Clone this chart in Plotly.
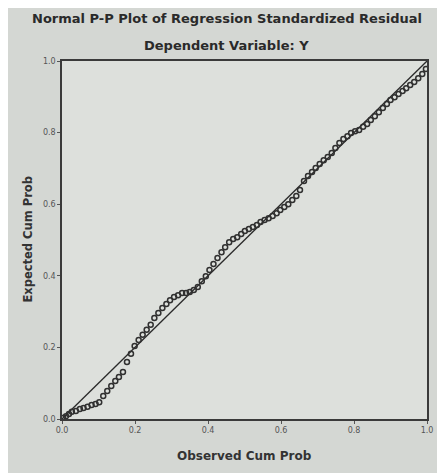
import plotly.graph_objects as go

observed = [0.003, 0.011, 0.019, 0.027, 0.038, 0.049, 0.059, 0.070, 0.081, 0.092,
            0.102, 0.113, 0.124, 0.135, 0.146, 0.156, 0.167, 0.178, 0.189, 0.199,
            0.210, 0.221, 0.232, 0.243, 0.253, 0.264, 0.275, 0.286, 0.296, 0.307,
            0.318, 0.329, 0.340, 0.350, 0.361, 0.372, 0.383, 0.394, 0.404, 0.415,
            0.426, 0.437, 0.447, 0.458, 0.469, 0.480, 0.491, 0.501, 0.512, 0.523,
            0.534, 0.544, 0.555, 0.566, 0.577, 0.588, 0.598, 0.609, 0.620, 0.631,
            0.642, 0.652, 0.663, 0.674, 0.685, 0.695, 0.706, 0.717, 0.728, 0.739,
            0.749, 0.760, 0.771, 0.782, 0.792, 0.803, 0.814, 0.825, 0.836, 0.846,
            0.857, 0.868, 0.879, 0.890, 0.900, 0.911, 0.922, 0.933, 0.943, 0.954,
            0.965, 0.976, 0.987, 0.997]
expected = [0.003, 0.008, 0.014, 0.020, 0.022, 0.028, 0.031, 0.034, 0.039, 0.042,
            0.047, 0.064, 0.078, 0.092, 0.106, 0.117, 0.131, 0.159, 0.182, 0.204,
            0.221, 0.235, 0.249, 0.263, 0.282, 0.296, 0.310, 0.321, 0.332, 0.341,
            0.346, 0.352, 0.352, 0.355, 0.360, 0.369, 0.385, 0.399, 0.416, 0.433,
            0.450, 0.466, 0.480, 0.494, 0.503, 0.508, 0.517, 0.525, 0.531, 0.536,
            0.542, 0.550, 0.556, 0.561, 0.567, 0.575, 0.584, 0.592, 0.600, 0.612,
            0.623, 0.640, 0.665, 0.679, 0.690, 0.701, 0.712, 0.723, 0.732, 0.743,
            0.757, 0.771, 0.782, 0.790, 0.799, 0.804, 0.807, 0.816, 0.824, 0.835,
            0.846, 0.857, 0.869, 0.880, 0.891, 0.899, 0.908, 0.916, 0.924, 0.933,
            0.941, 0.952, 0.964, 0.978]
ref_line = [0.0, 1.0]
tick_vals = [0.0, 0.2, 0.4, 0.6, 0.8, 1.0]
tick_text = ["0.0", "0.2", "0.4", "0.6", "0.8", "1.0"]
title_1 = "Normal P-P Plot of Regression Standardized Residual"
title_2 = "Dependent Variable: Y"
x_title = "Observed Cum Prob"
y_title = "Expected Cum Prob"

# page offset (browser body margin)
OFF = 8
W, H = 445 - OFF, 473 - OFF
L, R, T, B = 62 - OFF, 12, 61 - OFF, H - (419 - OFF)
PW, PH = W - L - R, H - T - B


def px(x):
    return (x - OFF - L) / PW


def py(y):
    return (H - (y - OFF) - B) / PH


fig = go.Figure()
fig.add_trace(go.Scatter(x=ref_line, y=ref_line, mode="lines",
                         line=dict(color="#2a2a2a", width=1.3), hoverinfo="skip"))
fig.add_trace(go.Scatter(x=observed, y=expected, mode="markers",
                         marker=dict(symbol="circle-open", size=5, color="#303030",
                                     line=dict(width=1.5, color="#303030"))))

font = "DejaVu Sans, sans-serif"
axis_common = dict(range=[0, 1], tickvals=tick_vals, ticktext=tick_text,
                   showgrid=False, zeroline=False, showline=True, mirror=True,
                   linecolor="#3a3a3a", linewidth=1.5, ticks="outside", ticklen=3,
                   tickcolor="#555555", tickfont=dict(size=8, color="#555555", family=font))
fig.update_layout(
    width=W, height=H,
    margin=dict(l=L, r=R, t=T, b=B),
    paper_bgcolor="#d4d7d3", plot_bgcolor="#dde0dc",
    showlegend=False,
    xaxis=dict(**axis_common),
    yaxis=dict(**axis_common),
    annotations=[
        dict(text="<b>%s</b>" % title_1, x=px(230), y=py(18), xref="paper", yref="paper",
             showarrow=False, xanchor="center", yanchor="middle",
             font=dict(size=13, color="#2a2a2a", family=font)),
        dict(text="<b>%s</b>" % title_2, x=px(229), y=py(45), xref="paper", yref="paper",
             showarrow=False, xanchor="center", yanchor="middle",
             font=dict(size=13, color="#2a2a2a", family=font)),
        dict(text="<b>%s</b>" % x_title, x=px(247), y=py(456), xref="paper", yref="paper",
             showarrow=False, xanchor="center", yanchor="middle",
             font=dict(size=12, color="#333333", family=font)),
        dict(text="<b>%s</b>" % y_title, x=px(27), y=py(239), xref="paper", yref="paper",
             showarrow=False, xanchor="center", yanchor="middle", textangle=-90,
             font=dict(size=11.5, color="#333333", family=font)),
    ],
)
fig.write_html("out.html")
